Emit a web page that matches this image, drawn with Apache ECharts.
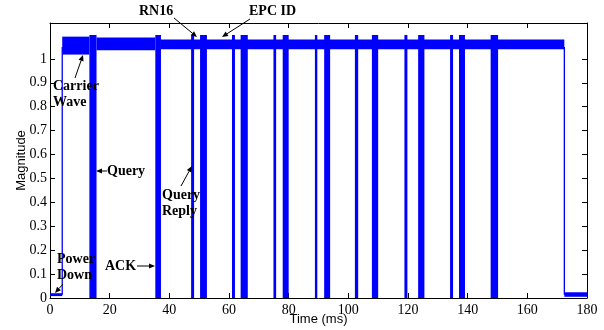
<!DOCTYPE html>
<html>
<head>
<meta charset="utf-8">
<script src="https://cdn.jsdelivr.net/npm/echarts@6/dist/echarts.min.js"></script>
<style>
  html, body { margin: 0; padding: 0; background: #fff; }
  #chart { width: 604px; height: 330px; }
</style>
</head>
<body>
<div id="chart"></div>
<script>
// time axis (ms) and magnitude ticks
const xTicks = [0, 20, 40, 60, 80, 100, 120, 140, 160, 180];
const yTicks = [0, 0.1, 0.2, 0.3, 0.4, 0.5, 0.6, 0.7, 0.8, 0.9, 1];

// reader bursts: full swing 0 .. ~1.1
const burstStart = [13.2, 35.3, 47.3, 50.3, 61.0, 63.9, 74.9, 78.0, 88.8, 91.9, 102.2, 107.9, 118.8, 123.4, 134.1, 137.1, 147.7];
const burstEnd   = [15.6, 37.2, 48.3, 52.6, 62.0, 66.3, 75.8, 80.0, 89.6, 93.9, 103.3, 110.0, 119.8, 125.5, 135.1, 139.1, 150.2];
const burstTop = 1.1;

// carrier wave noisy band
const carrierStart = [4.1, 15.6, 37.2];
const carrierEnd   = [13.2, 35.3, 172.4];
const carrierLow   = [1.018, 1.036, 1.04];
const carrierHigh  = [1.093, 1.089, 1.081];

// power down levels (before / after)
const lowStart = [0, 172.4];
const lowEnd   = [4.1, 180];
const lowMin   = [0.008, 0.005];
const lowMax   = [0.02, 0.024];

// rising / falling edges
const edgeTime = [4.1, 172.4];
const edgeTop  = [1.05, 1.05];

const rects = [];
for (let i = 0; i < lowStart.length; i++) rects.push([lowStart[i], lowEnd[i], lowMin[i], lowMax[i]]);
for (let i = 0; i < carrierStart.length; i++) rects.push([carrierStart[i], carrierEnd[i], carrierLow[i], carrierHigh[i]]);
for (let i = 0; i < burstStart.length; i++) rects.push([burstStart[i], burstEnd[i], 0, burstTop]);

const edgeData = [];
edgeTime.forEach((t, i) => {
  edgeData.push([t, 0.014], [t, edgeTop[i]], ['-', '-']);
});

const chart = echarts.init(document.getElementById('chart'));

const serif = 'Liberation Serif';
const black = '#000';

function arrow(x1, y1, x2, y2) {
  const a = Math.atan2(y2 - y1, x2 - x1);
  const L = 6, W = 2.6;
  const bx = x2 - L * Math.cos(a), by = y2 - L * Math.sin(a);
  const px = -Math.sin(a) * W, py = Math.cos(a) * W;
  return [
    { type: 'line', shape: { x1: x1, y1: y1, x2: bx, y2: by }, style: { stroke: black, lineWidth: 1 }, z: 100 },
    { type: 'polygon', shape: { points: [[x2, y2], [bx + px, by + py], [bx - px, by - py]] }, style: { fill: black }, z: 100 }
  ];
}

function label(text, x, y, align) {
  return {
    type: 'text', x: x, y: y, z: 100,
    style: {
      text: text, fill: black, font: 'bold 14px "Liberation Serif"',
      textAlign: align || 'left', textVerticalAlign: 'middle', lineHeight: 16
    }
  };
}

const graphics = [
  label('RN16', 139, 11),
  ...arrow(174, 18, 197, 37),
  label('EPC ID', 249, 11),
  ...arrow(250, 19, 222, 37),
  label('Carrier\nWave', 53, 94),
  ...arrow(75, 78, 83, 55),
  label('Query', 107, 171),
  ...arrow(107, 171, 96, 171),
  label('Query\nReply', 162, 203),
  ...arrow(181, 186, 192, 166),
  label('ACK', 105, 266),
  ...arrow(137, 266, 155, 266),
  label('Power\nDown', 57, 267.5),
  ...arrow(63, 284, 55, 293)
];

const axisLine = { show: true, onZero: false, lineStyle: { color: black, width: 1 } };
const tick = { show: true, inside: true, length: 5, lineStyle: { color: black } };

chart.setOption({
  animation: false,
  grid: { left: 50, right: 17, top: 23, bottom: 32, outerBoundsMode: 'none', containLabel: false },
  xAxis: [{
    type: 'value', min: 0, max: 180, interval: 20,
    name: 'Time (ms)', nameLocation: 'middle', nameGap: 15, nameMoveOverlap: false,
    nameTextStyle: { fontFamily: 'Liberation Sans', fontSize: 13, color: black },
    axisLine: axisLine, axisTick: tick, splitLine: { show: false },
    axisLabel: { fontFamily: serif, fontSize: 14, color: black, margin: 5 }
  }, {
    type: 'value', min: 0, max: 180, interval: 20, position: 'top',
    axisLine: axisLine, axisTick: tick, splitLine: { show: false },
    axisLabel: { show: false }
  }],
  yAxis: [{
    type: 'value', min: 0, max: 1.15,
    name: 'Magnitude', nameLocation: 'middle', nameGap: 22, nameMoveOverlap: false,
    nameTextStyle: { fontFamily: 'Liberation Sans', fontSize: 13, color: black },
    axisLine: axisLine, splitLine: { show: false },
    axisTick: Object.assign({ customValues: yTicks }, tick),
    axisLabel: { customValues: yTicks, fontFamily: serif, fontSize: 14, color: black, margin: 3,
      formatter: v => String(Math.round(v * 10) / 10) }
  }, {
    type: 'value', min: 0, max: 1.15, position: 'right',
    axisLine: axisLine, splitLine: { show: false },
    axisTick: Object.assign({ customValues: yTicks }, tick),
    axisLabel: { show: false }
  }],
  series: [{
    type: 'custom',
    clip: true,
    data: rects,
    renderItem: function (params, api) {
      const p0 = api.coord([api.value(0), api.value(3)]);
      const p1 = api.coord([api.value(1), api.value(2)]);
      return {
        type: 'rect',
        shape: { x: p0[0], y: p0[1], width: Math.max(1, p1[0] - p0[0]), height: Math.max(1, p1[1] - p0[1]) },
        style: { fill: '#0000ff' }
      };
    }
  }, {
    type: 'line',
    data: edgeData,
    showSymbol: false,
    connectNulls: false,
    lineStyle: { color: '#0000ff', width: 1.3 }
  }],
  graphic: graphics
});
</script>
</body>
</html>
